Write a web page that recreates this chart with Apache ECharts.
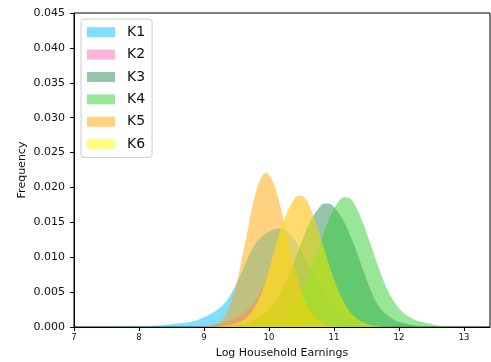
<!DOCTYPE html>
<html>
<head>
<meta charset="utf-8">
<script src="https://cdn.jsdelivr.net/npm/echarts/dist/echarts.min.js"></script>
<style>
  html, body { margin: 0; padding: 0; background: #ffffff; }
  #chart { width: 491px; height: 362px; }
</style>
</head>
<body>
<div id="chart"></div>
<script>
// Bin centres of the log household earnings histogram
const earnings = [
  7.05, 7.15, 7.25, 7.35, 7.45, 7.55, 7.65, 7.75, 7.85, 7.95,
  8.05, 8.15, 8.25, 8.35, 8.45, 8.55, 8.65, 8.75, 8.85, 8.95,
  9.05, 9.15, 9.25, 9.35, 9.45, 9.55, 9.65, 9.75, 9.85, 9.95,
  10.05, 10.15, 10.25, 10.35, 10.45, 10.55, 10.65, 10.75, 10.85, 10.95,
  11.05, 11.15, 11.25, 11.35, 11.45, 11.55, 11.65, 11.75, 11.85, 11.95,
  12.05, 12.15, 12.25, 12.35, 12.45, 12.55, 12.65, 12.75, 12.85, 12.95,
  13.05, 13.15, 13.25, 13.35
];

// Relative frequency per cluster
const k1 = [
  0, 0.00002, 0.00003, 0.00004, 0.00004, 0.00005, 0.00005, 0.00006, 0.00008, 0.0001,
  0.00012, 0.00015, 0.0002, 0.00026, 0.00033, 0.00042, 0.00052, 0.00065, 0.00085, 0.0012,
  0.0016, 0.0021, 0.0028, 0.0038, 0.0053, 0.0072, 0.0094, 0.0113, 0.0126, 0.0134,
  0.0139, 0.0141, 0.01385, 0.0130, 0.01166, 0.0100, 0.0082, 0.0064, 0.0048, 0.0034,
  0.0024, 0.0015, 0.0010, 0.0006, 0.0003, 0.00018, 0.0001, 0.00005, 0.00002, 0,
  0, 0, 0, 0, 0, 0, 0, 0, 0, 0,
  0, 0, 0, 0
];
const k2 = [
  0, 0, 0, 0, 0, 0, 0, 0, 0, 0,
  0, 0, 0, 0, 0, 0, 0, 0, 0.00005, 0.0001,
  0.0002, 0.0003, 0.0005, 0.0008, 0.0012, 0.0017, 0.0024, 0.0033, 0.0047, 0.0068,
  0.0098, 0.0130, 0.0157, 0.0177, 0.0188, 0.0185, 0.0167, 0.0141, 0.0111, 0.0082,
  0.0056, 0.0036, 0.0021, 0.0012, 0.0007, 0.0003, 0.00013, 0.00005, 0.00002, 0,
  0, 0, 0, 0, 0, 0, 0, 0, 0, 0,
  0, 0, 0, 0
];
const k3 = [
  0, 0, 0, 0, 0, 0, 0, 0, 0, 0,
  0, 0, 0, 0, 0, 0, 0, 0, 0, 0,
  0, 0.00005, 0.0001, 0.00015, 0.00025, 0.0004, 0.0006, 0.0009, 0.0014, 0.0021,
  0.0031, 0.0045, 0.0063, 0.0085, 0.0109, 0.0133, 0.0154, 0.0168, 0.0177, 0.0176,
  0.0166, 0.0152, 0.0131, 0.0107, 0.0081, 0.0056, 0.0036, 0.0023, 0.0015, 0.0009,
  0.0006, 0.0004, 0.00022, 0.00012, 0.00007, 0.00003, 0, 0, 0, 0,
  0, 0, 0, 0
];
const k4 = [
  0, 0, 0, 0, 0, 0, 0, 0, 0, 0,
  0, 0, 0, 0, 0, 0, 0, 0, 0, 0,
  0, 0, 0, 0, 0, 0, 0.00005, 0.0001, 0.0002, 0.0004,
  0.0006, 0.0010, 0.0016, 0.0026, 0.0041, 0.0060, 0.0084, 0.0110, 0.0137, 0.0160,
  0.0177, 0.0186, 0.0184, 0.0170, 0.0148, 0.0122, 0.0095, 0.0069, 0.0048, 0.0033,
  0.0022, 0.0015, 0.0010, 0.0007, 0.0005, 0.0003, 0.00015, 0.0001, 0.00007, 0.00005,
  0.00004, 0.00003, 0.00003, 0.00002
];
const k5 = [
  0, 0, 0, 0, 0, 0, 0, 0, 0, 0,
  0, 0, 0, 0, 0, 0, 0, 0, 0, 0,
  0.0001, 0.0003, 0.0008, 0.0020, 0.0045, 0.0083, 0.0129, 0.0174, 0.0208, 0.0221,
  0.0210, 0.0182, 0.0143, 0.0101, 0.0065, 0.0038, 0.0020, 0.0010, 0.00042, 0.00017,
  0.00006, 0.00002, 0, 0, 0, 0, 0, 0, 0, 0,
  0, 0, 0, 0, 0, 0, 0, 0, 0, 0,
  0, 0, 0, 0
];
const k6 = [
  0, 0, 0, 0, 0, 0, 0, 0, 0, 0,
  0, 0, 0, 0, 0, 0, 0, 0, 0, 0,
  0, 0, 0.0001, 0.0002, 0.0004, 0.0007, 0.0013, 0.0024, 0.0040, 0.0066,
  0.0098, 0.0131, 0.0158, 0.0178, 0.0187, 0.0184, 0.0167, 0.0141, 0.0111, 0.0082,
  0.0056, 0.0036, 0.0021, 0.0012, 0.0007, 0.0003, 0.00013, 0.00005, 0.00002, 0,
  0, 0, 0, 0, 0, 0, 0, 0, 0, 0,
  0, 0, 0, 0
];

const clusterNames = ['K1', 'K2', 'K3', 'K4', 'K5', 'K6'];
const clusterValues = [k1, k2, k3, k4, k5, k6];
const clusterColors = [
  'rgba(0,191,255,0.5)',
  'rgba(255,105,180,0.5)',
  'rgba(46,139,87,0.5)',
  'rgba(50,205,50,0.5)',
  'rgba(255,165,0,0.5)',
  'rgba(255,255,0,0.5)'
];

const font = 'DejaVu Sans';

const series = clusterNames.map((name, i) => ({
  name: name,
  type: 'line',
  data: earnings.map((x, j) => [x, clusterValues[i][j]]),
  smooth: 0.35,
  showSymbol: false,
  symbol: 'none',
  color: clusterColors[i],
  itemStyle: { color: clusterColors[i] },
  lineStyle: { width: 0 },
  areaStyle: { color: clusterColors[i], opacity: 1 },
  silent: true,
  animation: false
}));

const chart = echarts.init(document.getElementById('chart'), null, { renderer: 'canvas' });
chart.setOption({
  animation: false,
  backgroundColor: '#ffffff',
  grid: {
    left: 74, right: 1, top: 13, bottom: 35,
    containLabel: false,
    outerBoundsMode: 'none',
    show: true, borderColor: '#000000', borderWidth: 1,
    backgroundColor: 'transparent'
  },
  legend: {
    orient: 'vertical',
    left: 81, top: 19,
    icon: 'rect',
    itemWidth: 28, itemHeight: 10, itemGap: 0,
    padding: [2, 7, 2, 6],
    borderColor: '#cccccc', borderWidth: 1, borderRadius: 3,
    backgroundColor: 'rgba(255,255,255,0.8)',
    textStyle: { fontFamily: font, fontSize: 14, color: '#111', lineHeight: 22.4, padding: [0, 0, 0, 7] },
    data: clusterNames
  },
  xAxis: {
    type: 'value',
    min: 7, max: 13.4, interval: 1,
    name: 'Log Household Earnings',
    nameLocation: 'middle', nameGap: 21, nameMoveOverlap: false,
    nameTextStyle: { fontFamily: font, fontSize: 11, color: '#111' },
    axisLine: { show: true, lineStyle: { color: '#000', width: 1 } },
    axisTick: { show: true, length: 4, lineStyle: { color: '#000' } },
    axisLabel: { fontFamily: font, fontSize: 8.5, color: '#111', margin: 6, showMaxLabel: false },
    splitLine: { show: false }
  },
  yAxis: {
    type: 'value',
    min: 0, max: 0.045, interval: 0.005,
    name: 'Frequency',
    nameLocation: 'middle', nameGap: 46, nameMoveOverlap: false,
    nameTextStyle: { fontFamily: font, fontSize: 11, color: '#111' },
    axisLine: { show: true, lineStyle: { color: '#000', width: 1 } },
    axisTick: { show: true, length: 4, lineStyle: { color: '#000' } },
    axisLabel: { fontFamily: font, fontSize: 11, color: '#111', margin: 9, formatter: v => v.toFixed(3) },
    splitLine: { show: false }
  },
  series: series
});
</script>
</body>
</html>
